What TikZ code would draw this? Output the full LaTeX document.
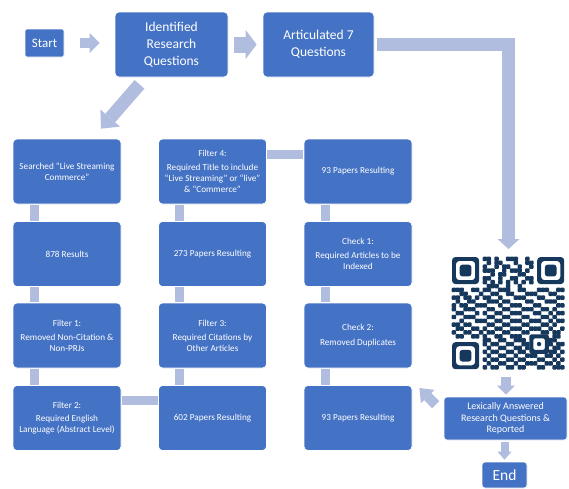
\documentclass[tikz,border=0pt]{standalone}
\usepackage{fontspec}
\setmainfont{Carlito}
\usepackage{tikz}
\usetikzlibrary{arrows.meta, calc}
\definecolor{boxblue}{RGB}{68,114,196}
\definecolor{barblue}{RGB}{176,189,223}
\definecolor{qrnavy}{RGB}{22,56,92}

\begin{document}
\begin{tikzpicture}[x=1pt, y=-1pt]
		\tikzstyle{procbox} = [draw=white, line width=0.7pt, fill=boxblue, rounded corners=4pt, text=white, align=center, inner sep=1pt]
		\tikzstyle{gridbox} = [procbox, minimum width=108pt, minimum height=65pt, font=\fontsize{9.2}{10.9}\selectfont]
		\tikzstyle{topbox} = [procbox, minimum height=65pt, font=\fontsize{13.5}{17}\selectfont]
		\tikzstyle{linkbar} = [draw=barblue, line width=9pt]
		\tikzstyle{qrdot} = [fill=qrnavy, rounded corners=0.9pt]
		\tikzset{blockarrow/.style n args={3}{draw=barblue, line width=#1, -{Triangle[width=#2,length=#3,line width=0pt]}}}
		\useasboundingbox [fill=white] (0,0) rectangle (569,488);
		% top row
		\node [procbox, minimum width=39pt, minimum height=28pt, rounded corners=2pt, font=\fontsize{13}{15}\selectfont] (v_start) at (44.5,43) {Start};
		\node [topbox, minimum width=113pt] (v_idq) at (171.5,44.5) {Identified\\Research\\Questions};
		\node [topbox, minimum width=111pt] (v_art7) at (318.5,44.5) {Articulated 7\\Questions};
		% grid of steps
		\node [gridbox] (v_search) at (67,171.5) {Searched "Live Streaming\\Commerce"};
		\node [gridbox] (v_878) at (67,254) {878 Results};
		\node [gridbox] (v_f1) at (67,335.5) {Filter 1:\\[3pt]Removed Non-Citation \&\\Non-PRJs};
		\node [gridbox] (v_f2) at (67,418) {Filter 2:\\[3pt]Required English\\Language (Abstract Level)};
		\node [gridbox] (v_f4) at (212.5,171.5) {Filter 4:\\[3pt]Required Title to include\\“Live Streaming” or “live”\\\& “Commerce”};
		\node [gridbox] (v_273) at (212.5,254) {273 Papers Resulting};
		\node [gridbox] (v_f3) at (212.5,335.5) {Filter 3:\\[3pt]Required Citations by\\Other Articles};
		\node [gridbox] (v_602) at (212.5,418) {602 Papers Resulting};
		\node [gridbox] (v_93a) at (358,171.5) {93 Papers Resulting};
		\node [gridbox] (v_c1) at (358,254) {Check 1:\\[3pt]Required Articles to be\\Indexed};
		\node [gridbox] (v_c2) at (358,335.5) {Check 2:\\[4pt]Removed Duplicates};
		\node [gridbox] (v_93b) at (358,418) {93 Papers Resulting};
		% right column
		\node [procbox, minimum width=123pt, minimum height=43pt, rounded corners=3pt, font=\fontsize{10}{11.3}\selectfont] (v_lex) at (505.5,418.5) {Lexically Answered\\Research Questions \&\\Reported};
		\node [procbox, minimum width=45pt, minimum height=26pt, rounded corners=3pt, font=\fontsize{15.5}{18}\selectfont] (v_end) at (504.5,475) {End};
		\coordinate (v_qrtop) at (508.5,249);
		\coordinate (v_qrbot) at (506,377);
		% arrows
		\draw [blockarrow={10pt}{20pt}{10pt}] ($(v_start.east)+(16,0)$) -- ($(v_start.east -| v_idq.west)+(-15,0)$);
		\draw [blockarrow={16pt}{29pt}{11pt}] ($(v_idq.east)+(6,0)$) -- ($(v_art7.west)+(-6,0)$);
		\draw [blockarrow={13pt}{22pt}{10pt}] ($(v_art7.east)+(3,0)$) -| (v_qrtop);
		\draw [blockarrow={13pt}{26pt}{14pt}] ($(v_idq.south)+(-32,7)$) -- ($(v_search.north)+(34,-10)$);
		\draw [blockarrow={10pt}{18pt}{9pt}] (v_qrbot) -- ($(v_lex.north)+(0.5,-2)$);
		\draw [blockarrow={8pt}{14pt}{8pt}] ($(v_lex.south)+(-1,2)$) -- ($(v_end.north)+(0,-2)$);
		\draw [blockarrow={10pt}{19pt}{12pt}] ($(v_lex.north west)+(-8,8)$) -- ($(v_93b.east)+(7,-30)$);
		% bars between steps
		\foreach \a/\b in {v_search/v_878, v_878/v_f1, v_f1/v_f2, v_f4/v_273, v_273/v_f3, v_f3/v_602, v_93a/v_c1, v_c1/v_c2, v_c2/v_93b}
			\draw [linkbar] ($(\a.south west)+(21.5,0.4)$) -- ($(\b.north west)+(21.5,-0.4)$);
		\draw [linkbar] ($(v_f4.north east)+(0.4,16)$) -- ($(v_93a.north west)+(-0.4,16)$);
		\draw [linkbar] ($(v_f2.north east)+(0.4,15.5)$) -- ($(v_602.north west)+(-0.4,15.5)$);
		% qr code
		\foreach \fx/\fy in {0/0, 22/0, 0/22} {
			\fill [qrnavy, even odd rule, rounded corners=3.5pt] (452+\fx*3.87, 257+\fy*3.87) rectangle ++(27.09,27.09) (455.87+\fx*3.87, 260.87+\fy*3.87) rectangle ++(19.35,19.35);
			\fill [qrnavy, rounded corners=2.5pt] (459.74+\fx*3.87, 264.74+\fy*3.87) rectangle ++(11.61,11.61);
		}
		\fill [qrnavy, even odd rule, rounded corners=2pt] (452+20*3.87, 257+20*3.87) rectangle ++(19.35,19.35) (452+21*3.87, 257+21*3.87) rectangle ++(11.61,11.61);
		\fill [qrdot] (452+22*3.87, 257+22*3.87) rectangle ++(3.87,3.87);
		\foreach \r/\cl in {0/{8,9,11,14,15,16,19}, 1/{9,11,12,16,19,20}, 2/{8,11,13,14,17,20}, 3/{8,9,10,13,15,16,17,19}, 4/{10,12,13,17,18}, 5/{8,9,12,15,16,19,20}, 6/{8,10,12,14,16,18,20}, 7/{9,10,11,14,17},
			8/{0,1,2,5,6,8,9,12,13,14,17,18,22,23,24,27,28}, 9/{2,3,7,10,11,14,15,19,20,21,25,26}, 10/{0,1,3,4,6,8,9,12,16,17,18,22,23,27,28}, 11/{1,4,5,9,10,11,13,14,19,20,24,25,26},
			12/{0,2,3,6,7,8,12,15,16,17,21,22,27,28}, 13/{0,3,4,5,9,10,13,14,18,19,20,23,24,26}, 14/{1,2,6,8,11,12,15,16,17,21,22,25,27,28}, 15/{0,3,4,5,9,10,13,14,18,19,23,24,26},
			16/{2,6,7,8,11,12,15,16,17,20,21,22,25,27,28}, 17/{0,1,3,4,9,10,13,14,18,19,23,24,26}, 18/{1,2,5,6,8,11,12,15,16,17,20,21,22,25,28}, 19/{0,3,4,7,9,10,13,14,18,19,23,24,26,27},
			20/{1,2,5,6,8,11,12,15,16,17,26,27}, 21/{8,9,12,13,16,17,18,25,26}, 22/{8,10,11,14,15,18,19,25,27,28}, 23/{9,12,13,16,17,19,26,27}, 24/{8,10,11,14,15,17,18,25,26,28},
			25/{9,12,13,16,19,20,21,24,25,27}, 26/{8,10,11,14,15,17,18,22,23,26,28}, 27/{9,12,13,16,19,20,21,24,25,27}, 28/{8,10,11,14,15,17,18,22,23,26,27,28}}
			\foreach \c in \cl
				\fill [qrdot] (451.7+\c*3.87, 256.7+\r*3.87) rectangle ++(4.47,4.47);
\end{tikzpicture}
\end{document}
